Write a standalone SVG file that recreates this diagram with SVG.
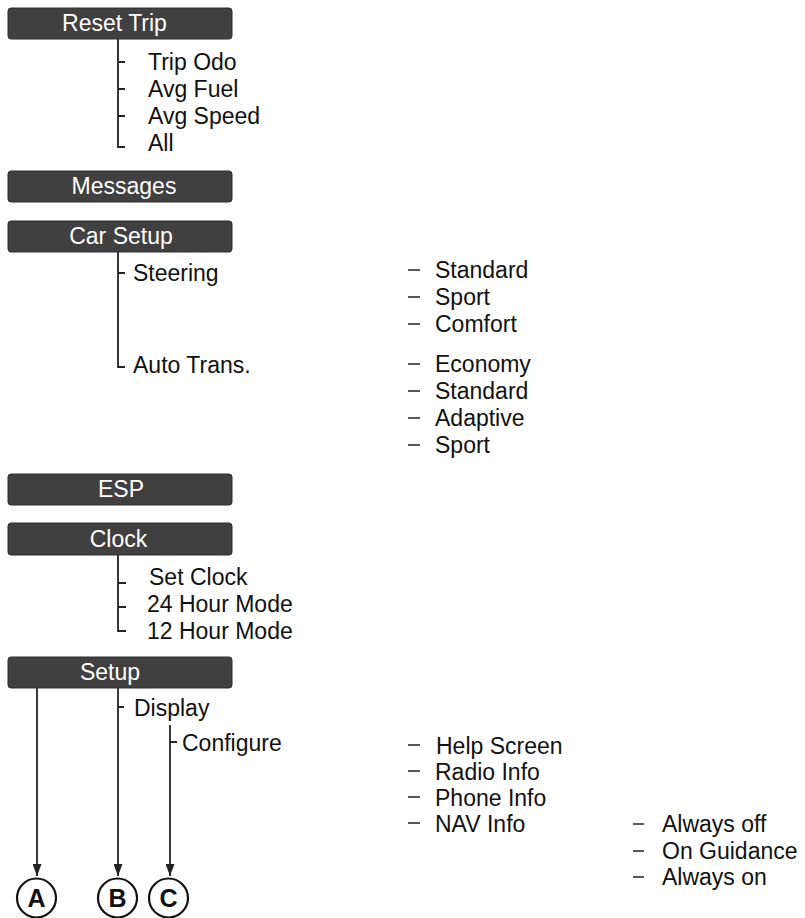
<svg xmlns="http://www.w3.org/2000/svg" width="805" height="918" viewBox="0 0 805 918">
<defs>
<style>
.box{fill:#404040;stroke:#2e2e2e;stroke-width:1}
.bt{font-family:"Liberation Sans",Arial,sans-serif;font-size:23px;fill:#ffffff;text-anchor:middle}
.t{font-family:"Liberation Sans",Arial,sans-serif;font-size:23px;fill:#111111}
.c{font-family:"Liberation Sans",Arial,sans-serif;font-size:25px;font-weight:bold;fill:#111111;text-anchor:middle}
.ln{stroke:#222222;stroke-width:1.8;fill:none}
.dash{stroke:#222222;stroke-width:1.5;fill:none}
.circ{fill:#ffffff;stroke:#111111;stroke-width:2.2}
</style>
<marker id="arr" markerWidth="12" markerHeight="9" refX="12" refY="4.5" orient="auto" markerUnits="userSpaceOnUse">
<path d="M0,0 L12,4.5 L0,9 Z" fill="#222222"/>
</marker>
</defs>
<rect width="805" height="918" fill="#ffffff"/>

<g id="connectors">
<path class="ln" d="M118,39 V147 H125 M118,62 H125 M118,89 H125 M118,116 H125"/>
<path class="ln" d="M118,252 V367 H125 M118,273 H125"/>
<path class="ln" d="M118,555 V631 H126 M118,583 H126 M118,607 H126"/>
<path class="ln" d="M118,707 H124 M170,742 H177"/>
<line class="ln" x1="37" y1="688" x2="37" y2="876" marker-end="url(#arr)"/>
<line class="ln" x1="118" y1="688" x2="118" y2="876" marker-end="url(#arr)"/>
<line class="ln" x1="170" y1="725" x2="170" y2="876" marker-end="url(#arr)"/>
<path class="dash" d="M408,270 H420 M408,297 H420 M408,324 H420 M408,364 H420 M408,391 H420 M408,418 H420 M408,445 H420"/>
<path class="dash" d="M408,745 H420 M408,771 H420 M408,797 H420 M408,823 H420"/>
<path class="dash" d="M633,824 H644 M633,851 H644 M633,877 H644"/>
</g>

<g id="reset-trip">
<rect class="box" x="8" y="8" width="224" height="31" rx="3"/>
<text class="bt" x="114.5" y="31">Reset Trip</text>
</g>
<g id="reset-trip-items">
<text class="t" x="148" y="70">Trip Odo</text>
<text class="t" x="148" y="97">Avg Fuel</text>
<text class="t" x="148" y="124">Avg Speed</text>
<text class="t" x="148" y="151">All</text>
</g>

<g id="messages">
<rect class="box" x="8" y="171" width="224" height="31" rx="3"/>
<text class="bt" x="124" y="194">Messages</text>
</g>

<g id="car-setup">
<rect class="box" x="8" y="221" width="224" height="31" rx="3"/>
<text class="bt" x="121" y="244">Car Setup</text>
</g>
<g id="steering">
<text class="t" x="133" y="281">Steering</text>
<text class="t" x="435" y="278">Standard</text>
<text class="t" x="435" y="305">Sport</text>
<text class="t" x="435" y="332">Comfort</text>
</g>
<g id="auto-trans">
<text class="t" x="133" y="373">Auto Trans.</text>
<text class="t" x="435" y="372">Economy</text>
<text class="t" x="435" y="399">Standard</text>
<text class="t" x="435" y="426">Adaptive</text>
<text class="t" x="435" y="453">Sport</text>
</g>

<g id="esp">
<rect class="box" x="8" y="474" width="224" height="31" rx="3"/>
<text class="bt" x="121" y="497">ESP</text>
</g>

<g id="clock">
<rect class="box" x="8" y="523" width="224" height="32" rx="3"/>
<text class="bt" x="118.5" y="547">Clock</text>
</g>
<g id="clock-items">
<text class="t" x="149" y="585">Set Clock</text>
<text class="t" x="147" y="612">24 Hour Mode</text>
<text class="t" x="147" y="639">12 Hour Mode</text>
</g>

<g id="setup">
<rect class="box" x="8" y="657" width="224" height="31" rx="3"/>
<text class="bt" x="110" y="680">Setup</text>
</g>
<g id="display">
<text class="t" x="134" y="716">Display</text>
</g>
<g id="configure">
<text class="t" x="182" y="751">Configure</text>
<text class="t" x="436" y="754">Help Screen</text>
<text class="t" x="435" y="780">Radio Info</text>
<text class="t" x="435" y="806">Phone Info</text>
<text class="t" x="435" y="832">NAV Info</text>
</g>
<g id="nav-info">
<text class="t" x="662" y="832">Always off</text>
<text class="t" x="662" y="859">On Guidance</text>
<text class="t" x="662" y="885">Always on</text>
</g>

<g id="circle-a">
<circle class="circ" cx="36.5" cy="898" r="19.5"/>
<text class="c" x="36.5" y="907">A</text>
</g>
<g id="circle-b">
<circle class="circ" cx="117.5" cy="898" r="19.5"/>
<text class="c" x="117.5" y="907">B</text>
</g>
<g id="circle-c">
<circle class="circ" cx="168.5" cy="898" r="19.5"/>
<text class="c" x="168.5" y="907">C</text>
</g>
</svg>
